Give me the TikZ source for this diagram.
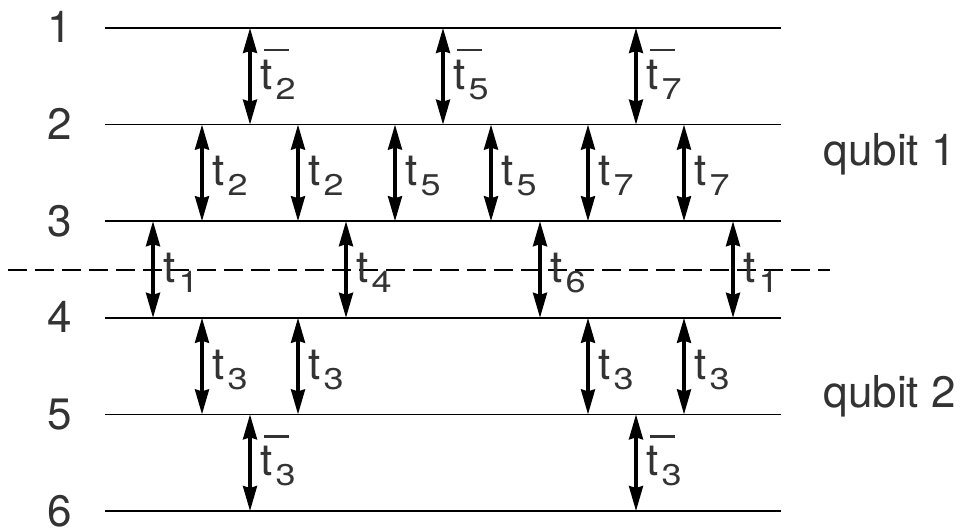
\documentclass[tikz,border=0pt]{standalone}
\usepackage{fontspec}
\usepackage{graphicx}
\setmainfont{TeX Gyre Heros}
\usetikzlibrary{arrows.meta}

\definecolor{inkgray}{HTML}{333333}

% hopping labels: t with a subscript, and with a bar
\newcommand{\tsub}[1]{t\kern1.5pt\raisebox{-5pt}{\scalebox{1.2}[1]{\fontsize{15}{15}\selectfont #1}}}
\newcommand{\tbar}[1]{\rlap{\kern2pt\raisebox{19pt}{\rule{12.5pt}{1.3pt}}}\tsub{#1}}

\tikzset{
  level/.style={black, line width=0.9pt},
  hop/.style={black, line width=1.6pt, {Stealth[length=12.5pt,width=7pt,inset=1pt]}-{Stealth[length=12.5pt,width=7pt,inset=1pt]}},
  hoplabel/.style={anchor=base west, inner sep=0pt, text=inkgray},
  numlabel/.style={anchor=base, inner sep=0pt, text=inkgray},
  every node/.style={font=\fontsize{22}{26}\selectfont}
}

\begin{document}
\begin{tikzpicture}[x=0.5pt,y=-0.5pt]
  \useasboundingbox (0,0) rectangle (961,529);

  % energy levels
  \foreach \k in {1,...,6} {
    \pgfmathsetmacro{\yy}{28+96.6*(\k-1)}
    \coordinate (l\k) at (105,\yy);
    \coordinate (r\k) at (781,\yy);
    \draw[level] (l\k) -- (r\k);
    \node[numlabel] (n\k) at (60,\yy+15) {\k};
  }

  % qubit boundary
  \coordinate (dl) at (8,269.5);
  \coordinate (dr) at (830,269.5);
  \draw[black, line width=1pt, dash pattern=on 9.5pt off 4pt] (dl) -- (dr);

  % hoppings: x / upper level / lower level / label
  \foreach \x/\a/\b/\t in {250/1/2/\tbar{2}, 443/1/2/\tbar{5}, 636/1/2/\tbar{7},
      202/2/3/\tsub{2}, 298/2/3/\tsub{2}, 395/2/3/\tsub{5}, 491/2/3/\tsub{5}, 588/2/3/\tsub{7}, 684/2/3/\tsub{7},
      153/3/4/\tsub{1}, 346/3/4/\tsub{4}, 540/3/4/\tsub{6}, 733/3/4/\tsub{1},
      202/4/5/\tsub{3}, 298/4/5/\tsub{3}, 588/4/5/\tsub{3}, 684/4/5/\tsub{3},
      250/5/6/\tbar{3}, 636/5/6/\tbar{3}} {
    \draw[hop] (\x,0 |- l\a) -- (\x,0 |- l\b);
    \path (\x,0 |- l\a) -- (\x,0 |- l\b) coordinate[pos=0.5] (m);
    \node[hoplabel] at ([xshift=5pt,yshift=-6.5pt]m) {\t};
  }

  % qubit labels
  \node[hoplabel] (q1) at (823,165) {qubit 1};
  \node[hoplabel] (q2) at (823,407) {qubit 2};
\end{tikzpicture}
\end{document}
